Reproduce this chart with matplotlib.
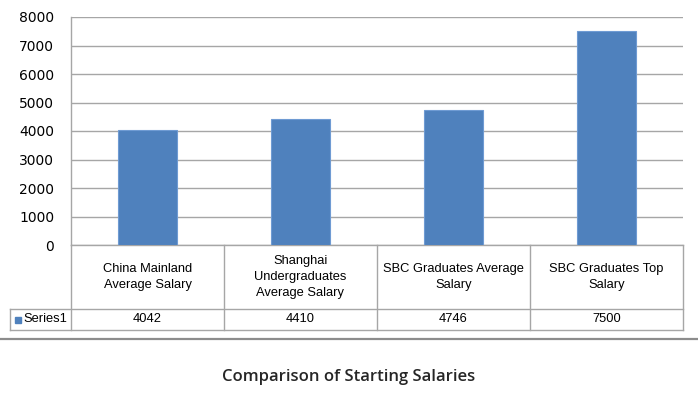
import matplotlib
matplotlib.use("Agg")
import matplotlib.pyplot as plt
import matplotlib.transforms as mtransforms
from matplotlib.lines import Line2D

# data
categories = ["China Mainland\nAverage Salary",
              "Shanghai\nUndergraduates\nAverage Salary",
              "SBC Graduates Average\nSalary",
              "SBC Graduates Top\nSalary"]
salaries = [4042, 4410, 4746, 7500]
series_name = "Series1"
title = "Comparison of Starting Salaries"
yticks = [0, 1000, 2000, 3000, 4000, 5000, 6000, 7000, 8000]

W, H = 698, 396
fig = plt.figure(figsize=(W / 100, H / 100), dpi=100)

# plot area in pixels
left, right, top, bottom = 71, 683, 17, 245
ax = fig.add_axes([left / W, 1 - bottom / H, (right - left) / W, (bottom - top) / H])

grid_col = "#a6a6a6"
bar_col = "#4f81bd"

x = range(len(salaries))
ax.bar(x, salaries, width=0.39, color=bar_col, edgecolor="#6f9bd3", linewidth=0.8, zorder=3)
ax.set_xlim(-0.5, len(salaries) - 0.5)
ax.set_ylim(0, 8000)
ax.set_yticks(yticks)
ax.set_yticklabels([str(v) for v in yticks], fontsize=10, family="DejaVu Sans", color="#000000")
ax.tick_params(axis="y", length=0, pad=12)
ax.set_xticks([])
ax.yaxis.grid(True, color=grid_col, linewidth=1.0, zorder=0)
for s in ["top", "right", "bottom"]:
    ax.spines[s].set_visible(False)
ax.spines["left"].set_color(grid_col)
ax.spines["left"].set_linewidth(1.0)

# data table below the plot (x in data units, y in axes units)
tr = mtransforms.blended_transform_factory(ax.transData, ax.transAxes)
ph = bottom - top
y_sep = -(309 - bottom) / ph
y_bot = -(330 - bottom) / ph
x_lab = -0.5 - (left - 10) / ((right - left) / len(salaries))
n = len(salaries)

def hline(x0, x1, y):
    ax.add_line(Line2D([x0, x1], [y, y], transform=tr, color=grid_col, lw=1.0, clip_on=False))

def vline(xv, y0, y1):
    ax.add_line(Line2D([xv, xv], [y0, y1], transform=tr, color=grid_col, lw=1.0, clip_on=False))

hline(-0.5, n - 0.5, 0)
hline(x_lab, n - 0.5, y_sep)
hline(x_lab, n - 0.5, y_bot)
vline(x_lab, y_sep, y_bot)
for i in range(n + 1):
    vline(i - 0.5, 0, y_bot)

tfont = dict(family="Liberation Sans", fontsize=9.3, color="#000000")
for i, (cat, val) in enumerate(zip(categories, salaries)):
    ax.text(i, y_sep / 2, cat, transform=tr, ha="center", va="center",
            linespacing=1.45, clip_on=False, **tfont)
    ax.text(i, (y_sep + y_bot) / 2, str(val), transform=tr, ha="center", va="center",
            clip_on=False, **tfont)

# legend key in the row header
ax.plot([x_lab + 0.05], [(y_sep + y_bot) / 2], marker="s", markersize=4.5, color=bar_col,
        transform=tr, clip_on=False, linestyle="none")
ax.text(x_lab + 0.09, (y_sep + y_bot) / 2, series_name, transform=tr, ha="left", va="center",
        clip_on=False, **tfont)

# separator rule and title
fig.add_artist(Line2D([0, 1], [1 - 338.5 / H] * 2, transform=fig.transFigure,
                      color="#8c8c8c", lw=1.6))
fig.text(0.5, 1 - 377 / H, title, ha="center", va="center", fontsize=12,
         family="Open Sans", weight="semibold", color="#262626")

fig.savefig("out.png", dpi=100, facecolor="white")
